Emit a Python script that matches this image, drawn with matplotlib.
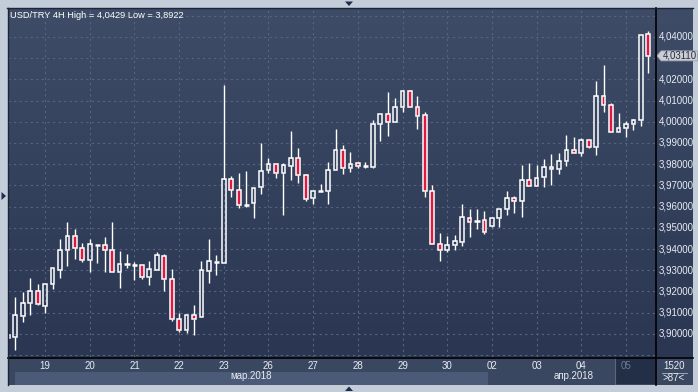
import numpy as np
import matplotlib
matplotlib.use("Agg")
import matplotlib.pyplot as plt
from matplotlib.patches import Rectangle, Polygon
from matplotlib.lines import Line2D
from matplotlib.colors import LinearSegmentedColormap

plt.rcParams["font.family"] = ["Liberation Sans", "DejaVu Sans"]

# ---- data: USD/TRY 4H candles ----
opens = [3.8994, 3.8986, 3.9085, 3.9147, 3.9202, 3.9133, 3.9233, 3.9302, 3.9394, 3.9460,
         3.9403, 3.9347, 3.9422, 3.9417, 3.9394, 3.9290, 3.9328, 3.9326, 3.9323, 3.9267,
         3.9302, 3.9366, 3.9257, 3.9068, 3.9017, 3.9087, 3.9078, 3.9295, 3.9342, 3.9333,
         3.9730, 3.9677, 3.9609, 3.9618, 3.9691, 3.9771, 3.9800, 3.9760, 3.9793, 3.9828,
         3.9748, 3.9639, 3.9672, 3.9672, 3.9771, 3.9866, 3.9781, 3.9804, 3.9792, 3.9788,
         3.9988, 4.0035, 3.9998, 4.0068, 4.0144, 4.0068, 4.0031, 3.9672, 3.9422, 3.9397,
         3.9417, 3.9432, 3.9545, 3.9532, 3.9535, 3.9507, 3.9545, 3.9587, 3.9639, 3.9625,
         3.9724, 3.9696, 3.9738, 3.9785, 3.9776, 3.9814, 3.9866, 3.9851, 3.9913, 3.9883,
         4.0120, 4.0078, 3.9950, 3.9969, 3.9988, 4.0007, 4.0413]
highs = [3.8994, 3.9172, 3.9197, 3.9262, 3.9235, 3.9233, 3.9309, 3.9446, 3.9526, 3.9494,
         3.9428, 3.9447, 3.9422, 3.9457, 3.9526, 3.9391, 3.9376, 3.9340, 3.9323, 3.9343,
         3.9387, 3.9375, 3.9307, 3.9097, 3.9087, 3.9134, 3.9343, 3.9447, 3.9372, 4.0174,
         3.9743, 3.9758, 3.9768, 3.9686, 3.9900, 3.9829, 3.9800, 3.9804, 3.9957, 3.9876,
         3.9752, 3.9672, 3.9705, 3.9810, 3.9966, 3.9891, 3.9858, 3.9809, 3.9810, 4.0008,
         4.0035, 4.0139, 4.0111, 4.0144, 4.0149, 4.0122, 4.0045, 3.9700, 3.9475, 3.9461,
         3.9466, 3.9611, 3.9587, 3.9587, 3.9578, 3.9545, 3.9587, 3.9672, 3.9649, 3.9795,
         3.9804, 3.9795, 3.9825, 3.9848, 3.9851, 3.9936, 3.9929, 3.9922, 3.9913, 4.0192,
         4.0267, 4.0087, 4.0041, 4.0002, 4.0015, 4.0408, 4.0429]
lows = [3.8982, 3.8922, 3.9057, 3.9089, 3.9137, 3.9100, 3.9211, 3.9265, 3.9321, 3.9353,
        3.9340, 3.9293, 3.9335, 3.9290, 3.9290, 3.9217, 3.9312, 3.9255, 3.9260, 3.9232,
        3.9302, 3.9203, 3.9062, 3.9010, 3.9005, 3.8996, 3.9078, 3.9241, 3.9279, 3.9333,
        3.9647, 3.9595, 3.9600, 3.9548, 3.9659, 3.9760, 3.9736, 3.9562, 3.9725, 3.9713,
        3.9628, 3.9614, 3.9669, 3.9614, 3.9771, 3.9752, 3.9762, 3.9781, 3.9781, 3.9783,
        3.9911, 3.9934, 3.9998, 4.0048, 4.0068, 3.9967, 3.9647, 3.9422, 3.9345, 3.9387,
        3.9397, 3.9413, 3.9458, 3.9496, 3.9472, 3.9505, 3.9505, 3.9562, 3.9571, 3.9552,
        3.9697, 3.9696, 3.9694, 3.9703, 3.9755, 3.9792, 3.9851, 3.9840, 3.9878, 3.9845,
        4.0045, 3.9950, 3.9950, 3.9930, 3.9963, 3.9982, 4.0232]
closes = [3.8982, 3.9087, 3.9144, 3.9202, 3.9142, 3.9233, 3.9309, 3.9394, 3.9460, 3.9403,
          3.9347, 3.9422, 3.9416, 3.9394, 3.9290, 3.9328, 3.9326, 3.9324, 3.9267, 3.9304,
          3.9370, 3.9257, 3.9071, 3.9017, 3.9087, 3.9068, 3.9300, 3.9342, 3.9339, 3.9730,
          3.9677, 3.9609, 3.9607, 3.9686, 3.9766, 3.9800, 3.9760, 3.9795, 3.9828, 3.9748,
          3.9634, 3.9672, 3.9671, 3.9771, 3.9866, 3.9781, 3.9800, 3.9790, 3.9791, 3.9988,
          4.0035, 3.9998, 4.0068, 4.0144, 4.0068, 4.0026, 3.9672, 3.9422, 3.9397, 3.9417,
          3.9436, 3.9550, 3.9526, 3.9531, 3.9482, 3.9545, 3.9587, 3.9639, 3.9625, 3.9724,
          3.9697, 3.9733, 3.9785, 3.9776, 3.9814, 3.9866, 3.9851, 3.9913, 3.9883, 4.0120,
          4.0078, 3.9950, 3.9969, 3.9988, 4.0007, 4.0408, 4.0311]

day_labels = ["19", "20", "21", "22", "23", "26", "27", "28", "29", "30", "02", "03", "04", "05"]
day_index = [5, 11, 17, 23, 29, 35, 41, 47, 53, 59, 65, 71, 77, 83]
price_ticks = [3.90, 3.91, 3.92, 3.93, 3.94, 3.95, 3.96, 3.97, 3.98, 3.99,
               4.00, 4.01, 4.02, 4.03, 4.04]
last_price = 4.0311
title = "USD/TRY 4H High = 4,0429 Low = 3,8922"

# ---- layout in pixels ----
W, H = 698, 392
def fx(px): return px / W
def fy(py): return 1 - py / H

BG = "#c3cdd9"
RED = "#e0173f"
grad = LinearSegmentedColormap.from_list("bg", ["#2a3652", "#3e4c67"])

fig = plt.figure(figsize=(W / 100, H / 100), dpi=100, facecolor=BG)

ylim = (4.04 - (357 - 37) / 2120, 4.04 + (37 - 8) / 2120)
xlim = (0.02, 86.9)

ax = fig.add_axes([fx(8), fy(357), fx(655) - fx(8), fy(8) - fy(357)])
axr = fig.add_axes([fx(655), fy(357), fx(693) - fx(655), fy(8) - fy(357)])
axb = fig.add_axes([fx(8), fy(385), fx(693) - fx(8), fy(357) - fy(385)])

for a in (ax, axr):
    a.imshow(np.linspace(0, 1, 256).reshape(-1, 1)[::-1], aspect="auto", cmap=grad,
             extent=(0, 1, 0, 1), transform=a.transAxes, zorder=0)
    a.set_ylim(ylim)
    a.set_xticks([])
    a.set_yticks([])
    for s in a.spines.values():
        s.set_visible(False)
ax.set_xlim(xlim)
axr.set_xlim(0, 1)

# grid
for p in np.arange(3.89, 4.051, 0.01):
    ax.axhline(p, color="#56647f", lw=0.8, ls=(0, (2, 3)), zorder=1)
for i in day_index:
    ax.axvline(i, color="#56647f", lw=0.8, ls=(0, (2, 3)), zorder=1)

# candles
bw = 0.5
for i in range(len(opens)):
    o, h, l, c = opens[i], highs[i], lows[i], closes[i]
    top, bot = max(o, c), min(o, c)
    ax.vlines(i, top, h, color="white", lw=1.0, zorder=3)
    ax.vlines(i, l, bot, color="white", lw=1.0, zorder=3)
    if top - bot < 0.0008:
        ax.hlines((top + bot) / 2, i - bw / 2 - 0.1, i + bw / 2 + 0.1, color="white", lw=1.8, zorder=4)
    else:
        fc = RED if c < o else "none"
        ax.add_patch(Rectangle((i - bw / 2, bot), bw, top - bot, facecolor=fc,
                               edgecolor="white", lw=1.1, zorder=4))

fig.text(fx(10), fy(15), title, color="white", fontsize=6.7, va="center", ha="left")

# price axis (label under the last-price box is hidden)
for p in price_ticks:
    if abs(p - last_price) < 0.004:
        continue
    axr.text(0.09, p, ("%.5f" % p).replace(".", ","), color="#e8ecf2", fontsize=7,
             va="center", ha="left")
d = 5 / 2120
axr.add_patch(Polygon([[0.05, last_price], [0.16, last_price + d], [1.12, last_price + d],
                       [1.12, last_price - d], [0.16, last_price - d]], closed=True,
                      facecolor="#c9ced7", edgecolor="#9aa3b3", lw=0.6, zorder=5, clip_on=False))
axr.text(0.2, last_price, ("%.5f" % last_price).replace(".", ","), color="#2a2f3a",
         fontsize=7, va="center", ha="left", zorder=6, clip_on=False)

# bottom date band
axb.set_xlim(xlim[0], xlim[0] + (693 - 8) / 7.447)
axb.set_ylim(0, 1)
axb.set_xticks([])
axb.set_yticks([])
for s in axb.spines.values():
    s.set_visible(False)
axb.set_facecolor("#3a4761")
axb.add_patch(Rectangle((0.96, 0), 64.5 - 0.96, 0.46, facecolor="#4b5a76", lw=0))
x05 = (616 - 7.85) / 7.447
x_end = (655 - 7.85) / 7.447
axb.add_patch(Rectangle((x05, 0.05), x_end - x05, 0.93, facecolor="#232e47", lw=0))
axb.axvline(x05 - 0.1, color="#5b6780", lw=0.8)
for lab, i in zip(day_labels, day_index):
    col = "#6f7b92" if lab == "05" else "#e8ecf2"
    axb.text(i, 0.68, lab, color=col, fontsize=7, ha="center", va="center")
axb.text((0.96 + 64.5) / 2, 0.32, "мар.2018", color="#e8ecf2", fontsize=7, ha="center", va="center")
axb.text(76, 0.32, "апр.2018", color="#e8ecf2", fontsize=7, ha="center", va="center")

# corner box
fig.text(fx(674), fy(366), "1520", color="#e8ecf2", fontsize=7, ha="center", va="center")
fig.add_artist(Line2D([fx(662), fx(687)], [fy(372.5), fy(372.5)], color="#aab4c6", lw=0.6))
fig.text(fx(674), fy(378), ">87<", color="#e8ecf2", fontsize=7, ha="center", va="center")

# frame lines
fig.add_artist(Line2D([fx(8), fx(693)], [fy(357.5), fy(357.5)], color="black", lw=1.2))
fig.add_artist(Line2D([fx(655.5), fx(655.5)], [fy(8), fy(385)], color="black", lw=1.2))
fig.add_artist(Line2D([fx(7.5), fx(693)], [fy(7.8), fy(7.8)], color="#1c2438", lw=1.0))
fig.add_artist(Line2D([fx(7.7), fx(7.7)], [fy(8), fy(385)], color="#1c2438", lw=1.0))

# little scroll arrows in the border
tri = "#1e2c48"
fig.add_artist(Polygon([[fx(345), fy(1.5)], [fx(353), fy(1.5)], [fx(349), fy(6)]],
                       closed=True, facecolor=tri, lw=0))
fig.add_artist(Polygon([[fx(345), fy(391)], [fx(353), fy(391)], [fx(349), fy(386.5)]],
                       closed=True, facecolor=tri, lw=0))
fig.add_artist(Polygon([[fx(1.5), fy(192)], [fx(1.5), fy(200)], [fx(6), fy(196)]],
                       closed=True, facecolor=tri, lw=0))

fig.savefig("out.png", dpi=100, facecolor=BG)
